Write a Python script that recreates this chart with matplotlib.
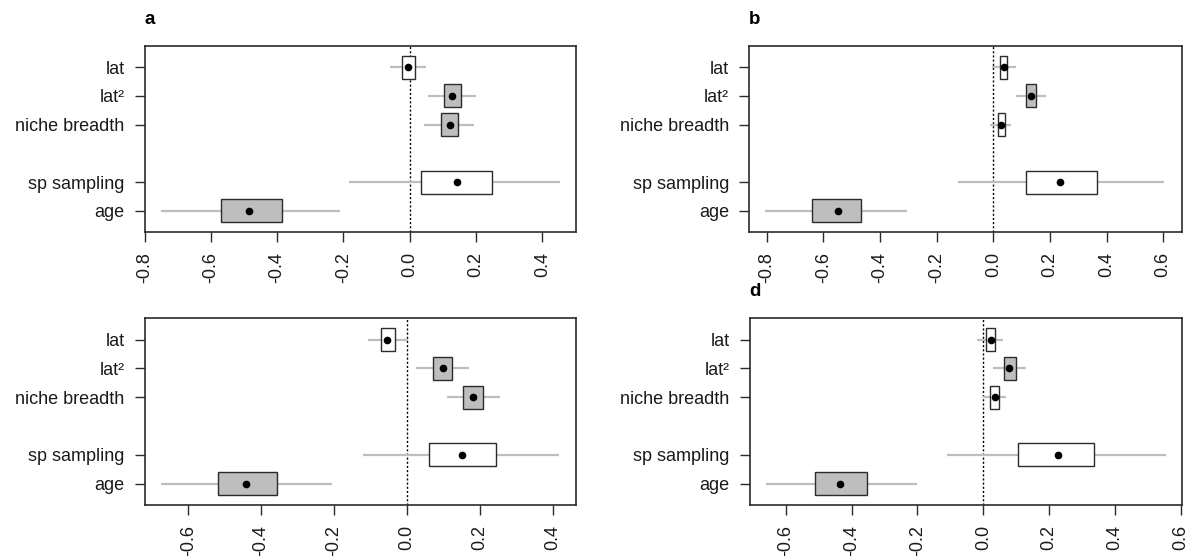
import matplotlib
matplotlib.use("Agg")
import matplotlib.pyplot as plt
from matplotlib.patches import Rectangle

plt.rcParams['font.family'] = ['Liberation Sans', 'DejaVu Sans']

terms = ['lat', 'lat²', 'niche breadth', 'sp sampling', 'age']

# per panel: estimate, box low/high (±1 SE), whisker low/high (CI), filled
a_est = [-0.004, 0.128, 0.121, 0.142, -0.485]
a_blo = [-0.0225, 0.102, 0.094, 0.033, -0.570]
a_bhi = [0.0156, 0.154, 0.147, 0.248, -0.386]
a_wlo = [-0.060, 0.056, 0.043, -0.182, -0.751]
a_whi = [0.050, 0.200, 0.195, 0.453, -0.209]
a_sig = [False, True, True, False, True]

b_est = [0.038, 0.134, 0.027, 0.237, -0.549]
b_blo = [0.023, 0.117, 0.015, 0.117, -0.639]
b_bhi = [0.050, 0.152, 0.040, 0.365, -0.467]
b_wlo = [-0.003, 0.079, -0.011, -0.123, -0.805]
b_whi = [0.079, 0.186, 0.063, 0.603, -0.305]
b_sig = [False, True, False, False, True]

c_est = [-0.054, 0.099, 0.180, 0.151, -0.441]
c_blo = [-0.0706, 0.072, 0.154, 0.059, -0.518]
c_bhi = [-0.0328, 0.123, 0.209, 0.243, -0.358]
c_wlo = [-0.107, 0.025, 0.109, -0.120, -0.676]
c_whi = [0.002, 0.169, 0.254, 0.417, -0.206]
c_sig = [False, True, True, False, True]

d_est = [0.022, 0.078, 0.035, 0.227, -0.435]
d_blo = [0.008, 0.063, 0.019, 0.107, -0.511]
d_bhi = [0.035, 0.098, 0.047, 0.337, -0.352]
d_wlo = [-0.018, 0.030, 0.000, -0.109, -0.661]
d_whi = [0.061, 0.131, 0.069, 0.555, -0.201]
d_sig = [False, True, False, False, True]

a_ticks = [-0.8, -0.6, -0.4, -0.2, 0.0, 0.2, 0.4]
b_ticks = [-0.8, -0.6, -0.4, -0.2, 0.0, 0.2, 0.4, 0.6]
c_ticks = [-0.6, -0.4, -0.2, 0.0, 0.2, 0.4]
d_ticks = [-0.6, -0.4, -0.2, 0.0, 0.2, 0.4, 0.6]

panels = [
    dict(label='a', est=a_est, blo=a_blo, bhi=a_bhi, wlo=a_wlo, whi=a_whi, sig=a_sig,
         ticks=a_ticks, xlim=(-0.798, 0.501), rect=[0.1209, 0.5827, 0.3605, 0.3345]),
    dict(label='b', est=b_est, blo=b_blo, bhi=b_bhi, wlo=b_wlo, whi=b_whi, sig=b_sig,
         ticks=b_ticks, xlim=(-0.8625, 0.667), rect=[0.6263, 0.5827, 0.3621, 0.3345]),
    dict(label='', est=c_est, blo=c_blo, bhi=c_bhi, wlo=c_wlo, whi=c_whi, sig=c_sig,
         ticks=c_ticks, xlim=(-0.720, 0.463), rect=[0.1209, 0.0917, 0.3605, 0.3358]),
    dict(label='d', est=d_est, blo=d_blo, bhi=d_bhi, wlo=d_wlo, whi=d_whi, sig=d_sig,
         ticks=d_ticks, xlim=(-0.7105, 0.6047), rect=[0.6267, 0.0917, 0.3618, 0.3358]),
]

# vertical layout: three climate terms, a gap, then two covariates
ypos = [6, 5, 4, 2, 1]
box_h = 0.8

fig = plt.figure(figsize=(11.96, 5.56), dpi=100)
edge = '#2b2b2b'
for p in panels:
    ax = fig.add_axes(p['rect'])
    ax.axvline(0, color='black', linestyle=(0, (1.5, 1.5)), linewidth=1.0, zorder=1)
    for i, y in enumerate(ypos):
        ax.plot([p['wlo'][i], p['whi'][i]], [y, y], color='#BEBEBE', linewidth=1.6,
                solid_capstyle='butt', zorder=2)
        ax.add_patch(Rectangle((p['blo'][i], y - box_h / 2), p['bhi'][i] - p['blo'][i], box_h,
                               facecolor='#BEBEBE' if p['sig'][i] else 'white',
                               edgecolor=edge, linewidth=1.0, zorder=3))
        ax.plot(p['est'][i], y, 'o', color='black', markersize=4.5, zorder=4)
    ax.set_xlim(*p['xlim'])
    ax.set_ylim(0.26, 6.74)
    ax.set_xticks(p['ticks'])
    ax.set_xticklabels([f'{t:.1f}' for t in p['ticks']], rotation=90, fontsize=13)
    ax.set_yticks(ypos)
    ax.set_yticklabels(terms, fontsize=13)
    ax.tick_params(axis='both', length=7.5, width=1.0, color=edge, pad=7, labelcolor='#1a1a1a')
    for s in ax.spines.values():
        s.set_color(edge)
        s.set_linewidth(1.2)
    if p['label']:
        ax.text(0.0, 1.12, p['label'], transform=ax.transAxes, fontsize=13.5,
                fontweight='bold', ha='left', va='baseline')

fig.savefig('out.png', dpi=100)
